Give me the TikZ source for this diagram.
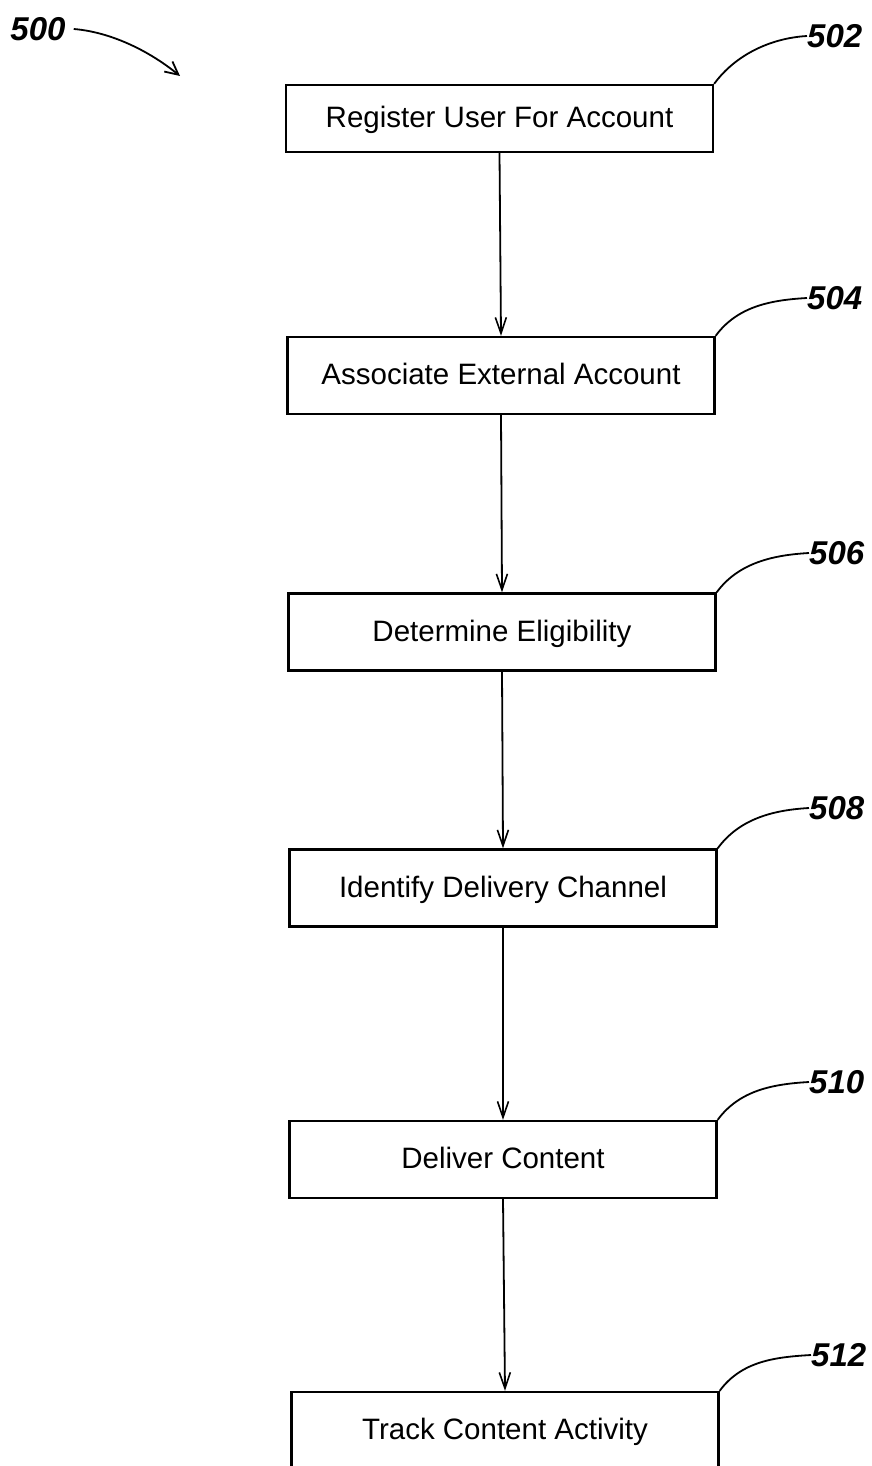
\documentclass[tikz,border=0pt]{standalone}
\usepackage{fontspec}
\setmainfont{Liberation Sans}
\usetikzlibrary{arrows.meta}
\begin{document}
\begin{tikzpicture}[x=1pt,y=-1pt,
  stepbox/.style={draw,line width=2.3pt,minimum width=427pt,minimum height=77pt,
    inner ysep=0pt,inner xsep=0pt,text depth=3pt,
    font=\fontsize{29.5}{34}\selectfont},
  reflabel/.style={anchor=west,inner sep=0pt,font=\fontsize{33}{36}\selectfont\bfseries\itshape},
  leader/.style={line width=1.8pt},
  flow/.style={line width=1.8pt,-{Straight Barb[length=16pt,width=11pt,line width=1.6pt]}}]
\useasboundingbox (0,0) rectangle (871,1466);

% process steps
\node[stepbox,minimum height=67pt] (s502) at (499.5,118.5) {Register User For Account};
\node[stepbox] (s504) at (501,375.5) {Associate External Account};
\node[stepbox] (s506) at (502,632) {Determine Eligibility};
\node[stepbox] (s508) at (503,888) {Identify Delivery Channel};
\node[stepbox] (s510) at (503,1159.5) {Deliver Content};
\node[stepbox] (s512) at (505,1430.5) {Track Content Activity};

% flow arrows
\draw[flow] (s502.south) -- (s504.north);
\draw[flow] (s504.south) -- (s506.north);
\draw[flow] (s506.south) -- (s508.north);
\draw[flow] (s508.south) -- (s510.north);
\draw[flow] (s510.south) -- (s512.north);

% reference numerals with leader lines
\foreach \n/\lx/\ly in {502/807/36, 504/807/298, 506/809/553, 508/809/808, 510/809/1082, 512/811/1355}{
  \node[reflabel] (r\n) at (\lx,\ly) {\n};
  \draw[leader] (s\n.north east) .. controls ([shift={(22,-30)}]s\n.north east)
     and ([shift={(-35,2)}]r\n.west) .. (r\n.west);
}

% figure numeral
\node[reflabel,anchor=center] (r500) at (38,29) {500};
\coordinate (t500) at (180,76);
\draw[line width=1.8pt,-{Straight Barb[length=13pt,width=13pt,line width=1.8pt]}]
  ([xshift=8pt]r500.east) .. controls (110,32) and (148,50) .. (t500);
\end{tikzpicture}
\end{document}
